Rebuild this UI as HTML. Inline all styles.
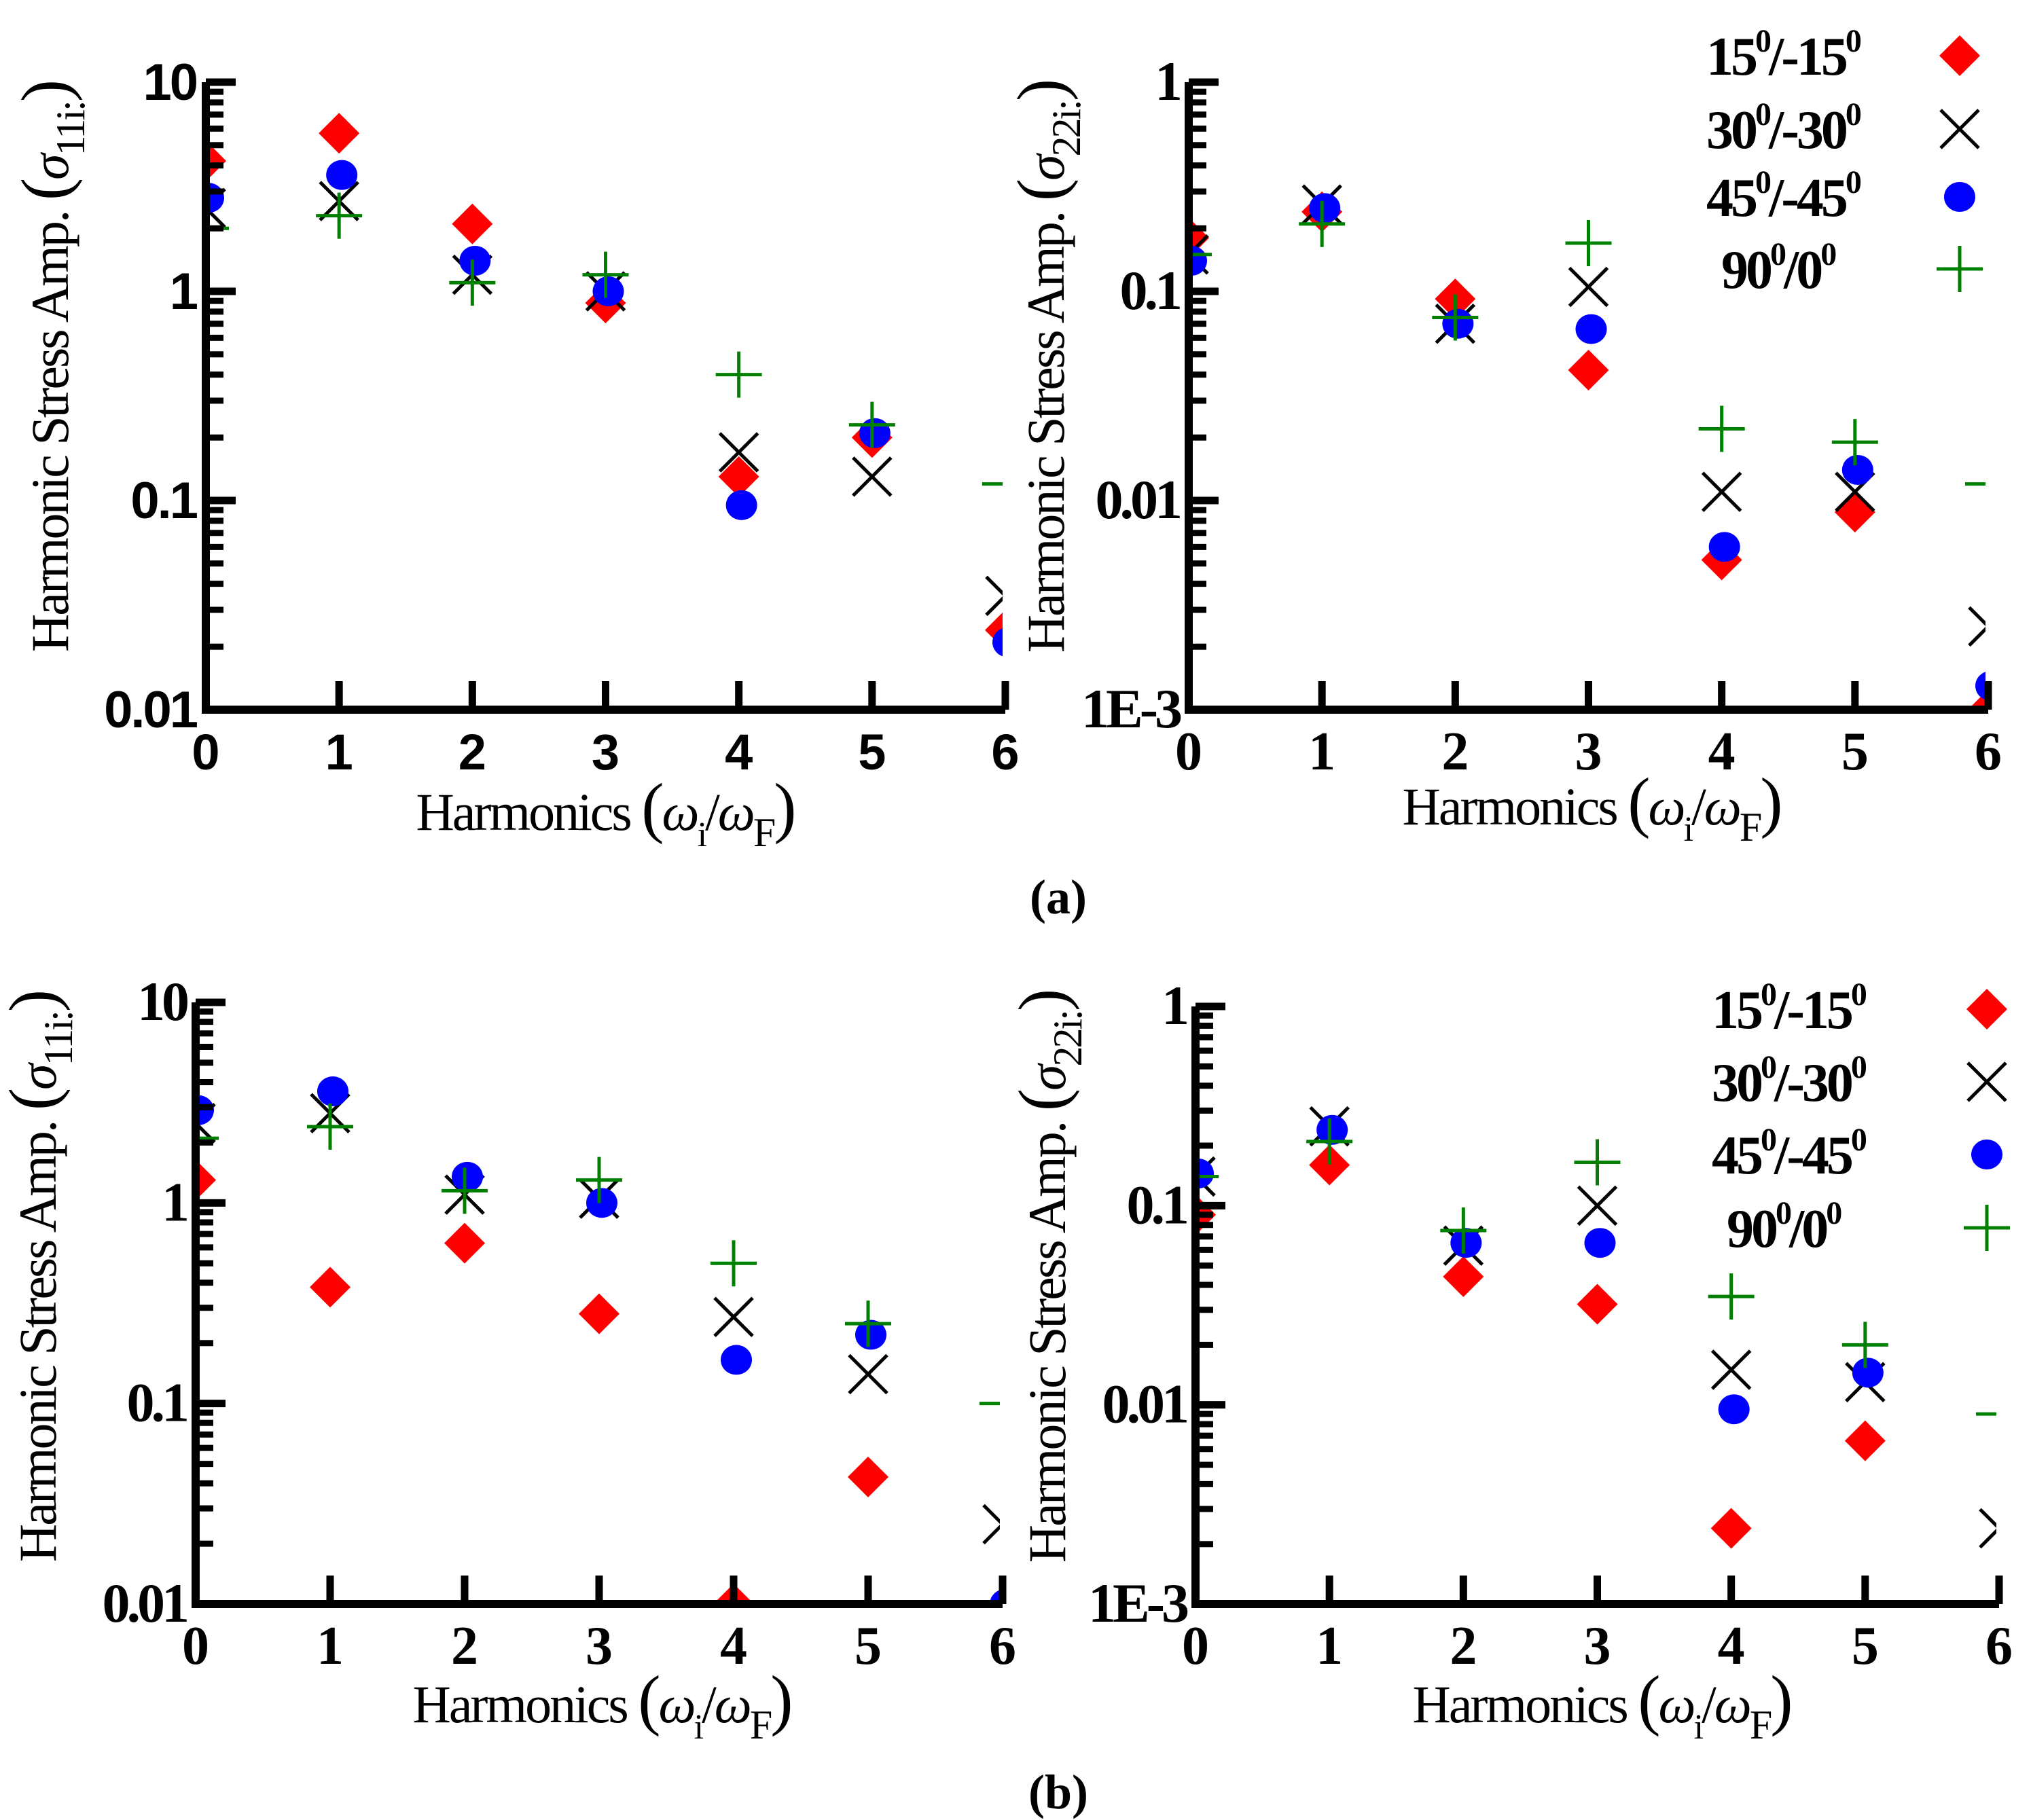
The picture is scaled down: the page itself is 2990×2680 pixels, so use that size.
<!DOCTYPE html>
<html><head><meta charset="utf-8"><style>
html,body{margin:0;padding:0;background:#fff}
svg{display:block}
text{fill:#000}
</style></head><body>
<svg id="fig" xmlns="http://www.w3.org/2000/svg" width="2990" height="2680" viewBox="0 0 2990 2680">
<text x="1558" y="1345" font-family="Liberation Serif, serif" font-weight="bold" font-size="72" text-anchor="middle">(a)</text>
<text x="1558" y="2663" font-family="Liberation Serif, serif" font-weight="bold" font-size="72" text-anchor="middle">(b)</text>
</svg>
<script>
const NS='http://www.w3.org/2000/svg';
const svg=document.getElementById('fig');
const categories=[0,1,2,3,4,5,6];
const seriesNames=['15/-15','30/-30','45/-45','90/0'];
// panel a-left (sigma11)
const aL_red=[4.2,5.7,2.1,0.88,0.13,0.2,0.024];
const aL_black=[2.5,2.7,1.2,1.0,0.17,0.13,0.035];
const aL_blue=[2.8,3.6,1.4,1.0,0.095,0.21,0.021];
const aL_green=[2.0,2.3,1.1,1.2,0.4,0.23,0.12];
// panel a-right (sigma22)
const aR_red=[0.18,0.24,0.092,0.042,0.0052,0.0088,0.001];
const aR_black=[0.15,0.26,0.07,0.105,0.011,0.011,0.0025];
const aR_blue=[0.14,0.25,0.07,0.066,0.006,0.014,0.0013];
const aR_green=[0.15,0.21,0.075,0.17,0.022,0.019,0.012];
// panel b-left
const bL_red=[1.3,0.38,0.63,0.28,0.01,0.043,0.005];
const bL_black=[2.5,2.8,1.1,1.05,0.27,0.14,0.025];
const bL_blue=[2.9,3.6,1.35,1.0,0.165,0.22,0.01];
const bL_green=[2.1,2.4,1.15,1.3,0.5,0.25,0.1];
// panel b-right
const bR_red=[0.09,0.16,0.044,0.032,0.0024,0.0066,0.0005];
const bR_black=[0.14,0.25,0.063,0.1,0.015,0.013,0.0024];
const bR_blue=[0.145,0.24,0.065,0.065,0.0095,0.0145,0.0005];
const bR_green=[0.14,0.21,0.075,0.165,0.035,0.02,0.009];
const ticksLeft=['0.01','0.1','1','10'];
const ticksRight=['1E-3','0.01','0.1','1'];

function el(tag,attrs,parent){const e=document.createElementNS(NS,tag);for(const k in attrs)e.setAttribute(k,attrs[k]);(parent||svg).appendChild(e);return e;}

function panel(id,x0,x1,y0,y1,lmin,lmax,ticks,sans,data,sym,titleX,titleY,subs){
  const g=el('g',{});
  
  
  const fx=v=>x0+(v-categories[0])/(categories[categories.length-1]-categories[0])*(x1-x0);
  const fy=v=>y1-(Math.log10(v)-lmin)/(lmax-lmin)*(y1-y0);
  const font=sans?'Liberation Sans, sans-serif':'Liberation Serif, serif';
  const clipId=id+'-clip';
  const cp=el('clipPath',{id:clipId},g);
  el('rect',{x:x0,y:y0-2,width:x1-x0-4,height:y1-y0+2},cp);
  const mg=el('g',{'clip-path':'url(#'+clipId+')'},g);
  data.forEach((arr,s)=>{
    arr.forEach((v,i)=>{
      const cx=fx(categories[i]),cy=fy(v);
      let m;
      if(s===0){m=el('polygon',{points:`${cx},${cy-30} ${cx+30},${cy} ${cx},${cy+30} ${cx-30},${cy}`,fill:'#ff0000'},mg);}
      else if(s===1){m=el('path',{d:`M${cx-28} ${cy-28}L${cx+28} ${cy+28}M${cx-28} ${cy+28}L${cx+28} ${cy-28}`,stroke:'#000','stroke-width':5},mg);}
      else if(s===2){m=el('ellipse',{cx:cx+4,cy:cy,rx:23,ry:22,fill:'#0000ff'},mg);}
      else {m=el('path',{d:`M${cx-34} ${cy}L${cx+34} ${cy}M${cx} ${cy-34}L${cx} ${cy+34}`,stroke:'#008000','stroke-width':5},mg);}
      
      
    });
  });
  for(let d=lmin;d<lmax;d++){
    for(let k=2;k<=9;k++){const y=fy(k*Math.pow(10,d));el('line',{x1:x0,x2:x0+26,y1:y,y2:y,stroke:'#000','stroke-width':9},g);}
  }
  for(let d=lmin;d<=lmax;d++){
    const y=fy(Math.pow(10,d));
    el('line',{x1:x0,x2:x0+44,y1:y,y2:y,stroke:'#000','stroke-width':11},g);
    const t=el('text',{x:x0-14,y:y+26,'font-family':font,'font-weight':'bold','font-size':sans?76:82,'text-anchor':'end','letter-spacing':sans?-3:-5},g);
    t.textContent=ticks[d-lmin];
    
    
  }
  categories.forEach(c=>{
    const x=fx(c);
    el('line',{x1:x,x2:x,y1:y1,y2:y1-42,stroke:'#000','stroke-width':11},g);
    const t=el('text',{x:x,y:y1+88,'font-family':font,'font-weight':'bold','font-size':sans?74:80,'text-anchor':'middle'},g);
    t.textContent=String(c);
    
    
  });
  el('path',{d:`M${x0} ${y0}L${x0} ${y1}L${x1} ${y1}`,fill:'none',stroke:'#000','stroke-width':12},g);
  const xt=el('text',{x:titleX[0],y:titleX[1],'font-family':'Liberation Serif, serif','font-size':78,'text-anchor':'middle','letter-spacing':-3},g);
  xt.innerHTML='Harmonics <tspan font-size="100">(</tspan><tspan font-style="italic">ω</tspan><tspan font-size="52" dy="24">i</tspan><tspan dy="-24">/</tspan><tspan font-style="italic">ω</tspan><tspan font-size="60" dy="24">F</tspan><tspan font-size="100" dy="-24">)</tspan>';
  
  
  const yt=el('text',{x:0,y:0,'font-family':'Liberation Serif, serif','font-size':78,'text-anchor':'middle','letter-spacing':-3,transform:`translate(${titleY[0]},${titleY[1]}) rotate(-90)`},g);
  yt.innerHTML='Harmonic Stress Amp. <tspan font-size="100">(</tspan><tspan font-style="italic">σ</tspan><tspan font-size="60" dy="24">'+subs+'</tspan><tspan font-size="100" dy="-24">)</tspan>';
  
  
}
const sym=['red-diamond','black-cross','blue-circle','green-plus'];
panel('panel-a-left',303,1480,121,1045,-2,1,ticksLeft,true,[aL_red,aL_black,aL_blue,aL_green],sym,[891,1222],[100,540],'11i:');
panel('panel-a-right',1750,2927,121,1045,-3,0,ticksRight,false,[aR_red,aR_black,aR_blue,aR_green],sym,[2343,1214],[1566,540],'22i:');
panel('panel-b-left',288,1476,1476,2362,-2,1,ticksLeft,false,[bL_red,bL_black,bL_blue,bL_green],sym,[886,2536],[82,1880],'11i:');
panel('panel-b-right',1760,2943,1482,2362,-3,0,ticksRight,false,[bR_red,bR_black,bR_blue,bR_green],sym,[2358,2536],[1568,1880],'22i:');

function legend(id,ys,mx,tx){
  const g=el('g',{});
  
  
  const labels=['15<tspan font-size="48" dy="-34">0</tspan><tspan dy="34">/-15</tspan><tspan font-size="48" dy="-34">0</tspan>',
    '30<tspan font-size="48" dy="-34">0</tspan><tspan dy="34">/-30</tspan><tspan font-size="48" dy="-34">0</tspan>',
    '45<tspan font-size="48" dy="-34">0</tspan><tspan dy="34">/-45</tspan><tspan font-size="48" dy="-34">0</tspan>',
    '90<tspan font-size="48" dy="-34">0</tspan><tspan dy="34">/0</tspan><tspan font-size="48" dy="-34">0</tspan>'];
  ys.forEach((y,i)=>{
    const t=el('text',{x:i===3?tx+22:tx,y:y+28,'font-family':'Liberation Serif, serif','font-weight':'bold','font-size':80,'letter-spacing':-4},g);
    t.innerHTML=labels[i];
    
    
    let m;
    if(i===0)m=el('polygon',{points:`${mx},${y-30} ${mx+30},${y} ${mx},${y+30} ${mx-30},${y}`,fill:'#ff0000'},g);
    else if(i===1)m=el('path',{d:`M${mx-28} ${y-28}L${mx+28} ${y+28}M${mx-28} ${y+28}L${mx+28} ${y-28}`,stroke:'#000','stroke-width':5},g);
    else if(i===2)m=el('ellipse',{cx:mx,cy:y,rx:23,ry:22,fill:'#0000ff'},g);
    else m=el('path',{d:`M${mx-34} ${y}L${mx+34} ${y}M${mx} ${y-34}L${mx} ${y+34}`,stroke:'#008000','stroke-width':5},g);
    
    
  });
}
legend('legend-a',[82,190,290,396],2885,2512);
legend('legend-b',[1486,1593,1700,1808],2925,2520);
</script>
</body></html>
